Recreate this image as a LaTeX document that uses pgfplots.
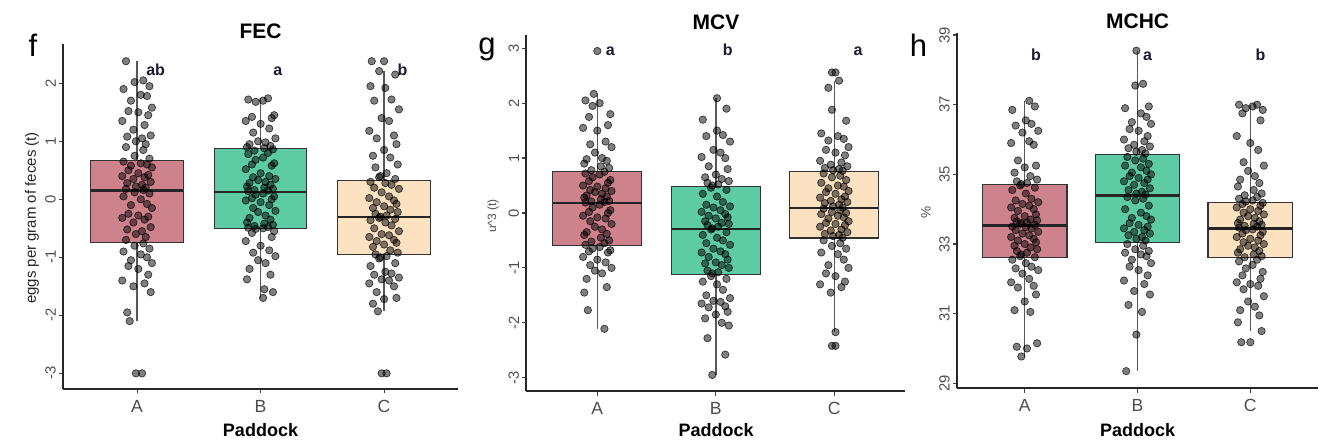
\documentclass[border=0pt]{standalone}
\usepackage{fontspec}
\setmainfont{Liberation Sans}
\usepackage{pgfplots}
\pgfplotsset{compat=1.18}
\usepgfplotslibrary{statistics}
\usepackage{pgfplotstable}

\definecolor{boxA}{HTML}{CD828C}
\definecolor{boxB}{HTML}{5DCCA5}
\definecolor{boxC}{HTML}{FDE2C2}
\definecolor{axgray}{HTML}{4D4D4D}
\definecolor{lettc}{HTML}{1A1A33}

% ---------------- FEC ----------------
\pgfplotstableread[row sep=\\]{
x y\\
0.91 2.38\\ 1.05 2.05\\ 0.98 2.02\\ 1.10 1.95\\ 0.89 1.90\\ 1.03 1.80\\ 1.08 1.78\\ 0.95 1.70\\ 1.12 1.58\\ 0.93 1.52\\
1.01 1.50\\ 1.09 1.45\\ 0.88 1.35\\ 1.06 1.28\\ 0.97 1.20\\ 1.11 1.10\\ 0.92 1.08\\ 1.04 1.05\\ 0.99 1.00\\ 1.07 0.95\\
0.91 0.90\\ 1.05 0.85\\ 0.98 0.75\\ 1.10 0.70\\ 0.89 0.65\\ 1.03 0.62\\ 1.08 0.60\\ 0.95 0.58\\ 1.12 0.55\\ 0.93 0.50\\
1.01 0.45\\ 1.09 0.42\\ 0.88 0.40\\ 1.06 0.38\\ 0.97 0.35\\ 1.11 0.30\\ 0.92 0.28\\ 1.04 0.25\\ 0.99 0.22\\ 1.07 0.20\\
0.91 0.18\\ 1.05 0.16\\ 0.98 0.12\\ 1.10 0.10\\ 0.89 0.05\\ 1.03 0.00\\ 1.08 -0.08\\ 0.95 -0.10\\ 1.12 -0.15\\ 0.93 -0.25\\
1.01 -0.28\\ 1.09 -0.30\\ 0.88 -0.32\\ 1.06 -0.35\\ 0.97 -0.40\\ 1.11 -0.48\\ 0.92 -0.52\\ 1.04 -0.55\\ 0.99 -0.60\\ 1.07 -0.65\\
0.91 -0.70\\ 1.05 -0.76\\ 0.98 -0.80\\ 1.10 -0.85\\ 0.89 -0.90\\ 1.03 -0.95\\ 1.08 -1.00\\ 0.95 -1.05\\ 1.12 -1.10\\ 0.93 -1.15\\
1.01 -1.20\\ 1.09 -1.30\\ 0.88 -1.40\\ 1.06 -1.45\\ 0.97 -1.50\\ 1.11 -1.60\\ 0.92 -1.95\\ 0.94 -2.10\\ 0.99 -3.00\\ 1.04 -3.00\\
}\fA
\pgfplotstableread[row sep=\\]{
x y\\
2.06 1.74\\ 1.90 1.72\\ 2.02 1.70\\ 1.96 1.68\\ 2.11 1.45\\ 1.93 1.42\\ 2.09 1.40\\ 1.88 1.35\\ 2.00 1.30\\ 2.07 1.22\\
1.94 1.15\\ 2.12 1.05\\ 1.98 1.00\\ 2.04 0.98\\ 1.91 0.95\\ 2.08 0.92\\ 1.89 0.90\\ 2.03 0.88\\ 2.10 0.86\\ 1.95 0.84\\
2.06 0.80\\ 1.90 0.78\\ 2.02 0.72\\ 1.96 0.68\\ 2.11 0.62\\ 1.93 0.60\\ 2.09 0.58\\ 1.88 0.52\\ 2.00 0.45\\ 2.07 0.40\\
1.94 0.38\\ 2.12 0.35\\ 1.98 0.33\\ 2.04 0.30\\ 1.91 0.28\\ 2.08 0.25\\ 1.89 0.22\\ 2.03 0.20\\ 2.10 0.18\\ 1.95 0.16\\
2.06 0.15\\ 1.90 0.14\\ 2.02 0.10\\ 1.96 0.08\\ 2.11 0.05\\ 1.93 0.02\\ 2.09 0.00\\ 1.88 -0.02\\ 2.00 -0.05\\ 2.07 -0.10\\
1.94 -0.15\\ 2.12 -0.20\\ 1.98 -0.22\\ 2.04 -0.28\\ 1.91 -0.32\\ 2.08 -0.35\\ 1.89 -0.40\\ 2.03 -0.42\\ 2.10 -0.44\\ 1.95 -0.46\\
2.06 -0.48\\ 1.90 -0.49\\ 2.02 -0.50\\ 1.96 -0.51\\ 2.11 -0.55\\ 1.93 -0.58\\ 2.09 -0.65\\ 1.88 -0.72\\ 2.00 -0.80\\ 2.07 -0.88\\
1.94 -0.92\\ 2.12 -0.98\\ 1.98 -1.05\\ 2.04 -1.10\\ 1.91 -1.20\\ 2.08 -1.30\\ 1.89 -1.38\\ 2.03 -1.55\\ 2.10 -1.60\\ 2.02 -1.70\\
}\fB
\pgfplotstableread[row sep=\\]{
x y\\
2.90 2.38\\ 3.00 2.38\\
2.96 2.21\\ 3.09 2.15\\ 2.89 1.95\\ 3.01 1.92\\ 3.06 1.72\\ 2.92 1.70\\ 3.12 1.55\\ 2.98 1.40\\ 3.04 1.35\\ 2.88 1.18\\
3.08 1.10\\ 2.94 1.05\\ 3.10 0.95\\ 3.00 0.85\\ 2.91 0.75\\ 3.05 0.72\\ 3.11 0.60\\ 2.93 0.55\\ 3.02 0.45\\ 2.97 0.40\\
2.96 0.38\\ 3.09 0.35\\ 2.89 0.30\\ 3.01 0.28\\ 3.06 0.25\\ 2.92 0.20\\ 3.12 0.18\\ 2.98 0.12\\ 3.04 0.05\\ 2.88 0.02\\
3.08 -0.02\\ 2.94 -0.05\\ 3.10 -0.08\\ 3.00 -0.12\\ 2.91 -0.15\\ 3.05 -0.18\\ 3.11 -0.22\\ 2.93 -0.25\\ 3.02 -0.28\\ 2.97 -0.30\\
2.96 -0.32\\ 3.09 -0.34\\ 2.89 -0.36\\ 3.01 -0.40\\ 3.06 -0.45\\ 2.92 -0.50\\ 3.12 -0.55\\ 2.98 -0.60\\ 3.04 -0.62\\ 2.88 -0.65\\
3.08 -0.70\\ 2.94 -0.72\\ 3.10 -0.75\\ 3.00 -0.78\\ 2.91 -0.82\\ 3.05 -0.88\\ 3.11 -0.92\\ 2.93 -0.95\\ 3.02 -0.98\\ 2.97 -1.00\\
2.96 -1.02\\ 3.09 -1.10\\ 2.89 -1.15\\ 3.01 -1.25\\ 3.06 -1.28\\ 2.92 -1.30\\ 3.12 -1.35\\ 2.98 -1.38\\ 3.04 -1.40\\ 2.88 -1.45\\
3.08 -1.50\\ 2.94 -1.60\\ 3.10 -1.70\\ 3.00 -1.72\\ 2.91 -1.80\\ 2.95 -1.93\\
2.98 -3.00\\ 3.02 -3.00\\
}\fC

% ---------------- MCV ----------------
\pgfplotstableread[row sep=\\]{
x y\\
0.97 2.17\\ 0.90 2.05\\ 1.02 2.00\\ 0.96 1.95\\ 1.11 1.80\\ 0.93 1.75\\ 1.09 1.60\\ 0.88 1.55\\ 1.00 1.50\\ 1.07 1.30\\
0.94 1.25\\ 1.12 1.20\\ 0.98 1.10\\ 1.04 1.00\\ 0.91 0.98\\ 1.08 0.95\\ 0.89 0.90\\ 1.03 0.85\\ 1.10 0.82\\ 0.95 0.78\\
1.06 0.75\\ 0.90 0.72\\ 1.02 0.70\\ 0.96 0.65\\ 1.11 0.60\\ 0.93 0.58\\ 1.09 0.55\\ 0.88 0.50\\ 1.00 0.48\\ 1.07 0.45\\
0.94 0.42\\ 1.12 0.40\\ 0.98 0.38\\ 1.04 0.35\\ 0.91 0.32\\ 1.08 0.30\\ 0.89 0.28\\ 1.03 0.25\\ 1.10 0.22\\ 0.95 0.21\\
1.06 0.20\\ 0.90 0.19\\ 1.02 0.15\\ 0.96 0.10\\ 1.11 0.05\\ 0.93 0.02\\ 1.09 0.00\\ 0.88 -0.05\\ 1.00 -0.08\\ 1.07 -0.10\\
0.94 -0.15\\ 1.12 -0.20\\ 0.98 -0.25\\ 1.04 -0.30\\ 0.91 -0.35\\ 1.08 -0.38\\ 0.89 -0.40\\ 1.03 -0.45\\ 1.10 -0.50\\ 0.95 -0.52\\
1.06 -0.55\\ 0.90 -0.58\\ 1.02 -0.62\\ 0.96 -0.65\\ 1.11 -0.68\\ 0.93 -0.70\\ 1.09 -0.72\\ 0.88 -0.80\\ 1.00 -0.85\\ 1.07 -0.90\\
0.94 -0.95\\ 1.12 -1.00\\ 0.98 -1.05\\ 1.04 -1.10\\ 0.91 -1.20\\ 1.08 -1.35\\ 0.89 -1.45\\ 0.92 -1.77\\ 1.06 -2.11\\ 1.00 2.95\\
}\gA
\pgfplotstableread[row sep=\\]{
x y\\
2.01 2.09\\ 2.09 1.90\\ 1.89 1.70\\ 2.01 1.50\\ 2.06 1.42\\ 1.92 1.40\\ 2.12 1.30\\ 1.98 1.15\\ 2.04 1.10\\ 1.88 1.02\\
2.08 1.00\\ 1.94 0.85\\ 2.10 0.80\\ 2.00 0.70\\ 1.91 0.65\\ 2.05 0.62\\ 2.11 0.58\\ 1.93 0.55\\ 2.02 0.52\\ 1.97 0.50\\
1.96 0.46\\ 2.09 0.42\\ 1.89 0.35\\ 2.01 0.30\\ 2.06 0.20\\ 1.92 0.15\\ 2.12 0.12\\ 1.98 0.10\\ 2.04 0.05\\ 1.88 0.02\\
2.08 -0.02\\ 1.94 -0.05\\ 2.10 -0.08\\ 2.00 -0.10\\ 1.91 -0.15\\ 2.05 -0.18\\ 2.11 -0.20\\ 1.93 -0.22\\ 2.02 -0.25\\ 1.97 -0.28\\
1.96 -0.30\\ 2.09 -0.35\\ 1.89 -0.40\\ 2.01 -0.45\\ 2.06 -0.50\\ 1.92 -0.55\\ 2.12 -0.58\\ 1.98 -0.65\\ 2.04 -0.70\\ 1.88 -0.72\\
2.08 -0.75\\ 1.94 -0.80\\ 2.10 -0.85\\ 2.00 -0.90\\ 1.91 -0.92\\ 2.05 -0.95\\ 2.11 -1.00\\ 1.93 -1.05\\ 2.02 -1.08\\ 1.97 -1.10\\
1.96 -1.15\\ 2.09 -1.20\\ 1.89 -1.25\\ 2.01 -1.30\\ 2.06 -1.40\\ 1.92 -1.50\\ 2.12 -1.55\\ 1.98 -1.60\\ 2.04 -1.62\\ 1.88 -1.65\\
2.08 -1.70\\ 1.94 -1.72\\ 2.10 -1.80\\ 2.00 -1.85\\ 1.91 -1.92\\ 2.05 -2.00\\ 2.11 -2.05\\ 1.93 -2.28\\ 2.08 -2.58\\ 1.97 -2.95\\
}\gB
\pgfplotstableread[row sep=\\]{
x y\\
2.98 2.56\\ 3.01 2.56\\ 2.98 -2.42\\ 3.01 -2.42\\
3.04 2.41\\ 2.95 2.28\\ 2.98 1.88\\ 3.10 1.68\\ 2.89 1.45\\ 3.03 1.40\\ 3.08 1.35\\ 2.95 1.32\\ 3.12 1.20\\ 2.93 1.15\\
3.01 1.10\\ 3.09 1.05\\ 2.88 0.95\\ 3.06 0.92\\ 2.97 0.88\\ 3.11 0.85\\ 2.92 0.82\\ 3.04 0.80\\ 2.99 0.78\\ 3.07 0.77\\
2.91 0.72\\ 3.05 0.68\\ 2.98 0.65\\ 3.10 0.60\\ 2.89 0.55\\ 3.03 0.50\\ 3.08 0.48\\ 2.95 0.45\\ 3.12 0.40\\ 2.93 0.38\\
3.01 0.35\\ 3.09 0.30\\ 2.88 0.28\\ 3.06 0.25\\ 2.97 0.22\\ 3.11 0.20\\ 2.92 0.18\\ 3.04 0.15\\ 2.99 0.12\\ 3.07 0.10\\
2.91 0.08\\ 3.05 0.05\\ 2.98 0.02\\ 3.10 0.00\\ 2.89 -0.02\\ 3.03 -0.05\\ 3.08 -0.08\\ 2.95 -0.10\\ 3.12 -0.15\\ 2.93 -0.18\\
3.01 -0.20\\ 3.09 -0.22\\ 2.88 -0.25\\ 3.06 -0.30\\ 2.97 -0.32\\ 3.11 -0.35\\ 2.92 -0.38\\ 3.04 -0.40\\ 2.99 -0.42\\ 3.07 -0.45\\
2.91 -0.50\\ 3.05 -0.55\\ 2.98 -0.60\\ 3.10 -0.65\\ 2.89 -0.72\\ 3.03 -0.75\\ 3.08 -0.85\\ 2.95 -0.95\\ 3.12 -1.00\\ 2.93 -1.10\\
3.01 -1.15\\ 3.09 -1.25\\ 2.88 -1.30\\ 3.06 -1.35\\ 2.97 -1.45\\ 3.01 -2.17\\
}\gC

% ---------------- MCHC ----------------
\pgfplotstableread[row sep=\\]{
x y\\
1.04 37.11\\ 1.09 36.95\\ 0.89 36.85\\ 1.01 36.55\\ 1.06 36.45\\ 0.92 36.40\\ 1.12 36.25\\ 0.98 36.20\\ 1.04 35.95\\ 0.88 35.90\\
1.08 35.85\\ 0.94 35.40\\ 1.10 35.25\\ 1.00 35.20\\ 0.91 35.05\\ 1.05 34.95\\ 1.11 34.85\\ 0.93 34.80\\ 1.02 34.75\\ 0.97 34.72\\
0.96 34.68\\ 1.09 34.62\\ 0.89 34.55\\ 1.01 34.45\\ 1.06 34.30\\ 0.92 34.25\\ 1.12 34.20\\ 0.98 34.15\\ 1.04 34.10\\ 0.88 34.05\\
1.08 34.00\\ 0.94 33.95\\ 1.10 33.85\\ 1.00 33.80\\ 0.91 33.75\\ 1.05 33.70\\ 1.11 33.68\\ 0.93 33.65\\ 1.02 33.62\\ 0.97 33.60\\
0.96 33.58\\ 1.09 33.55\\ 0.89 33.50\\ 1.01 33.48\\ 1.06 33.45\\ 0.92 33.40\\ 1.12 33.35\\ 0.98 33.30\\ 1.04 33.25\\ 0.88 33.20\\
1.08 33.15\\ 0.94 33.10\\ 1.10 33.05\\ 1.00 33.00\\ 0.91 32.95\\ 1.05 32.90\\ 1.11 32.85\\ 0.93 32.80\\ 1.02 32.75\\ 0.97 32.70\\
0.96 32.65\\ 1.09 32.62\\ 0.89 32.55\\ 1.01 32.45\\ 1.06 32.35\\ 0.92 32.30\\ 1.12 32.25\\ 0.98 32.15\\ 1.04 32.00\\ 0.88 31.90\\
1.08 31.80\\ 0.94 31.75\\ 1.10 31.55\\ 1.00 31.35\\ 0.91 31.10\\ 1.05 31.05\\ 1.11 30.15\\ 0.93 30.05\\ 1.02 30.00\\ 0.97 29.77\\
}\hA
\pgfplotstableread[row sep=\\]{
x y\\
1.99 38.55\\ 2.05 37.60\\ 1.98 37.55\\ 2.10 36.95\\ 1.89 36.90\\ 2.03 36.75\\ 2.08 36.65\\ 1.95 36.50\\ 2.12 36.45\\ 1.93 36.30\\
2.01 36.25\\ 2.09 36.10\\ 1.88 36.00\\ 2.06 35.95\\ 1.97 35.85\\ 2.11 35.80\\ 1.92 35.75\\ 2.04 35.70\\ 1.99 35.65\\ 2.07 35.60\\
1.91 35.50\\ 2.05 35.45\\ 1.98 35.40\\ 2.10 35.30\\ 1.89 35.25\\ 2.03 35.20\\ 2.08 35.10\\ 1.95 35.05\\ 2.12 35.00\\ 1.93 34.95\\
2.01 34.90\\ 2.09 34.85\\ 1.88 34.80\\ 2.06 34.75\\ 1.97 34.70\\ 2.11 34.60\\ 1.92 34.55\\ 2.04 34.50\\ 1.99 34.45\\ 2.07 34.42\\
1.91 34.35\\ 2.05 34.30\\ 1.98 34.25\\ 2.10 34.10\\ 1.89 34.00\\ 2.03 33.90\\ 2.08 33.80\\ 1.95 33.75\\ 2.12 33.70\\ 1.93 33.60\\
2.01 33.55\\ 2.09 33.50\\ 1.88 33.45\\ 2.06 33.40\\ 1.97 33.35\\ 2.11 33.30\\ 1.92 33.25\\ 2.04 33.20\\ 1.99 33.15\\ 2.07 33.10\\
1.91 33.00\\ 2.05 32.95\\ 1.98 32.85\\ 2.10 32.80\\ 1.89 32.75\\ 2.03 32.70\\ 2.08 32.65\\ 1.95 32.55\\ 2.12 32.45\\ 1.93 32.35\\
2.01 32.25\\ 2.09 32.10\\ 1.88 31.95\\ 2.06 31.85\\ 1.97 31.65\\ 2.11 31.55\\ 1.92 31.25\\ 2.04 31.05\\ 1.99 30.40\\ 1.90 29.35\\
}\hB
\pgfplotstableread[row sep=\\]{
x y\\
3.06 37.00\\ 2.90 37.00\\ 3.02 36.95\\ 2.96 36.90\\ 3.11 36.85\\ 2.93 36.75\\ 3.09 36.55\\ 2.88 36.10\\ 3.00 35.90\\ 3.07 35.70\\
2.94 35.35\\ 3.12 35.25\\ 2.98 35.10\\ 3.04 34.95\\ 2.91 34.85\\ 3.08 34.75\\ 2.89 34.65\\ 3.03 34.55\\ 3.10 34.45\\ 2.95 34.40\\
3.06 34.35\\ 2.90 34.30\\ 3.02 34.25\\ 2.96 34.22\\ 3.11 34.18\\ 2.93 34.15\\ 3.09 34.10\\ 2.88 34.05\\ 3.00 34.00\\ 3.07 33.95\\
2.94 33.90\\ 3.12 33.85\\ 2.98 33.80\\ 3.04 33.75\\ 2.91 33.70\\ 3.08 33.65\\ 2.89 33.60\\ 3.03 33.58\\ 3.10 33.55\\ 2.95 33.52\\
3.06 33.50\\ 2.90 33.47\\ 3.02 33.42\\ 2.96 33.40\\ 3.11 33.35\\ 2.93 33.30\\ 3.09 33.25\\ 2.88 33.20\\ 3.00 33.15\\ 3.07 33.10\\
2.94 33.05\\ 3.12 33.00\\ 2.98 32.95\\ 3.04 32.90\\ 2.91 32.85\\ 3.08 32.80\\ 2.89 32.75\\ 3.03 32.70\\ 3.10 32.65\\ 2.95 32.62\\
3.06 32.55\\ 2.90 32.50\\ 3.02 32.40\\ 2.96 32.30\\ 3.11 32.20\\ 2.93 32.10\\ 3.09 32.00\\ 2.88 31.90\\ 3.00 31.85\\ 3.07 31.80\\
2.94 31.70\\ 3.12 31.50\\ 2.98 31.35\\ 3.04 31.20\\ 2.91 31.10\\ 3.08 30.95\\ 2.89 30.75\\ 3.10 30.50\\ 2.92 30.18\\ 3.00 30.18\\
}\hC

\pgfplotsset{
  panel/.style={
    anchor=south west, scale only axis, clip=false,
    xmin=0.4, xmax=3.6,
    axis x line*=bottom, axis y line*=left,
    axis line style={-, black!85, line width=0.75pt},
    xtick={1,2,3}, xticklabels={A,B,C},
    tick align=outside, major tick length=2.2pt,
    tick style={black!75, line width=0.6pt},
    xticklabel style={font=\fontsize{8.8}{10}\selectfont, text=axgray},
    yticklabel style={font=\fontsize{7.4}{8}\selectfont, text=axgray, rotate=90, anchor=south, inner sep=1.2pt},
    boxplot/draw direction=y,
    boxplot/every median/.style={line width=1.2pt, draw=black!85},
    boxplot/every whisker/.style={draw=black!65, line width=0.7pt},
  },
  pts/.style={only marks, mark=*, mark size=1.85pt,
    mark options={fill=black, fill opacity=0.5, draw=black, draw opacity=0.7, line width=0.35pt}},
  bx/.style={draw=black!80, line width=0.55pt},
}
\tikzset{lett/.style={font=\bfseries\fontsize{8}{9}\selectfont, anchor=base, text=lettc}}

\begin{document}
\begin{tikzpicture}
\path[use as bounding box] (0pt,0pt) rectangle (660pt,220pt);

% ---------- panel f : FEC ----------
\begin{axis}[panel, at={(31.5pt,25.5pt)}, width=197.6pt, height=172.3pt,
  ymin=-3.27, ymax=2.67, ytick={-3,-2,-1,0,1,2}, yticklabels={-3,-2,-1,0,1,2}]
\addplot[bx, fill=boxA, boxplot prepared={draw position=1, lower whisker=-2.10, lower quartile=-0.74, median=0.155, upper quartile=0.67, upper whisker=2.38, box extend=0.75, whisker extend=0}] coordinates {};
\addplot[bx, fill=boxB, boxplot prepared={draw position=2, lower whisker=-1.70, lower quartile=-0.50, median=0.13, upper quartile=0.875, upper whisker=1.74, box extend=0.75, whisker extend=0}] coordinates {};
\addplot[bx, fill=boxC, boxplot prepared={draw position=3, lower whisker=-1.93, lower quartile=-0.955, median=-0.31, upper quartile=0.33, upper whisker=2.21, box extend=0.75, whisker extend=0}] coordinates {};
\addplot[pts] table {\fA};
\addplot[pts] table {\fB};
\addplot[pts] table {\fC};
\node[lett] at (axis cs:1.15,2.14) {ab};
\node[lett] at (axis cs:2.14,2.14) {a};
\node[lett] at (axis cs:3.15,2.14) {b};
\end{axis}

% ---------- panel g : MCV ----------
\begin{axis}[panel, at={(263.1pt,24.43pt)}, width=189.6pt, height=178.15pt,
  ymin=-3.245, ymax=3.245, ytick={-3,-2,-1,0,1,2,3}, yticklabels={-3,-2,-1,0,1,2,3}]
\addplot[bx, fill=boxA, boxplot prepared={draw position=1, lower whisker=-2.11, lower quartile=-0.595, median=0.18, upper quartile=0.76, upper whisker=2.17, box extend=0.75, whisker extend=0}] coordinates {};
\addplot[bx, fill=boxB, boxplot prepared={draw position=2, lower whisker=-2.95, lower quartile=-1.12, median=-0.29, upper quartile=0.48, upper whisker=2.09, box extend=0.75, whisker extend=0}] coordinates {};
\addplot[bx, fill=boxC, boxplot prepared={draw position=3, lower whisker=-2.17, lower quartile=-0.455, median=0.09, upper quartile=0.76, upper whisker=2.41, box extend=0.75, whisker extend=0}] coordinates {};
\addplot[pts] table {\gA};
\addplot[pts] table {\gB};
\addplot[pts] table {\gC};
\node[lett] at (axis cs:1.11,2.865) {a};
\node[lett] at (axis cs:2.10,2.865) {b};
\node[lett] at (axis cs:3.20,2.865) {a};
\end{axis}

% ---------- panel h : MCHC ----------
\begin{axis}[panel, at={(478.5pt,25.9pt)}, width=180.5pt, height=177.8pt,
  ymin=28.86, ymax=39.07, ytick={29,31,33,35,37,39}, yticklabels={29,31,33,35,37,39}]
\addplot[bx, fill=boxA, boxplot prepared={draw position=1, lower whisker=29.77, lower quartile=32.6, median=33.53, upper quartile=34.71, upper whisker=37.11, box extend=0.75, whisker extend=0}] coordinates {};
\addplot[bx, fill=boxB, boxplot prepared={draw position=2, lower whisker=29.35, lower quartile=33.05, median=34.39, upper quartile=35.56, upper whisker=38.55, box extend=0.75, whisker extend=0}] coordinates {};
\addplot[bx, fill=boxC, boxplot prepared={draw position=3, lower whisker=30.50, lower quartile=32.6, median=33.45, upper quartile=34.2, upper whisker=37.0, box extend=0.75, whisker extend=0}] coordinates {};
\addplot[pts] table {\hA};
\addplot[pts] table {\hB};
\addplot[pts] table {\hC};
\node[lett] at (axis cs:1.10,38.26) {b};
\node[lett] at (axis cs:2.09,38.26) {a};
\node[lett] at (axis cs:3.09,38.26) {b};
\end{axis}

% titles
\node[anchor=base, font=\bfseries\fontsize{10.5}{12}\selectfont] at (130.25pt,200.85pt) {FEC};
\node[anchor=base, font=\bfseries\fontsize{10.5}{12}\selectfont] at (358.0pt,205.35pt) {MCV};
\node[anchor=base, font=\bfseries\fontsize{10.5}{12}\selectfont] at (568.8pt,205.85pt) {MCHC};
% panel letters
\node[anchor=base, font=\fontsize{15.5}{17}\selectfont] at (16.5pt,191.65pt) {f};
\node[anchor=base, font=\fontsize{15.5}{17}\selectfont] at (243.5pt,192.5pt) {g};
\node[anchor=base, font=\fontsize{15.5}{17}\selectfont] at (459.2pt,191.65pt) {h};
% y labels
\node[rotate=90, font=\fontsize{7.5}{9}\selectfont, text=black!85] at (16pt,111pt) {eggs per gram of feces (t)};
\node[rotate=90, font=\fontsize{6}{7}\selectfont, text=axgray] at (246.5pt,112pt) {u\textasciicircum 3 (t)};
\node[rotate=90, font=\fontsize{6.8}{8}\selectfont, text=axgray] at (463pt,114pt) {\%};
% x labels
\node[anchor=base, font=\bfseries\fontsize{9}{10}\selectfont] at (130.25pt,2pt) {Paddock};
\node[anchor=base, font=\bfseries\fontsize{9}{10}\selectfont] at (358.0pt,2pt) {Paddock};
\node[anchor=base, font=\bfseries\fontsize{9}{10}\selectfont] at (568.8pt,2pt) {Paddock};
\end{tikzpicture}
\end{document}
